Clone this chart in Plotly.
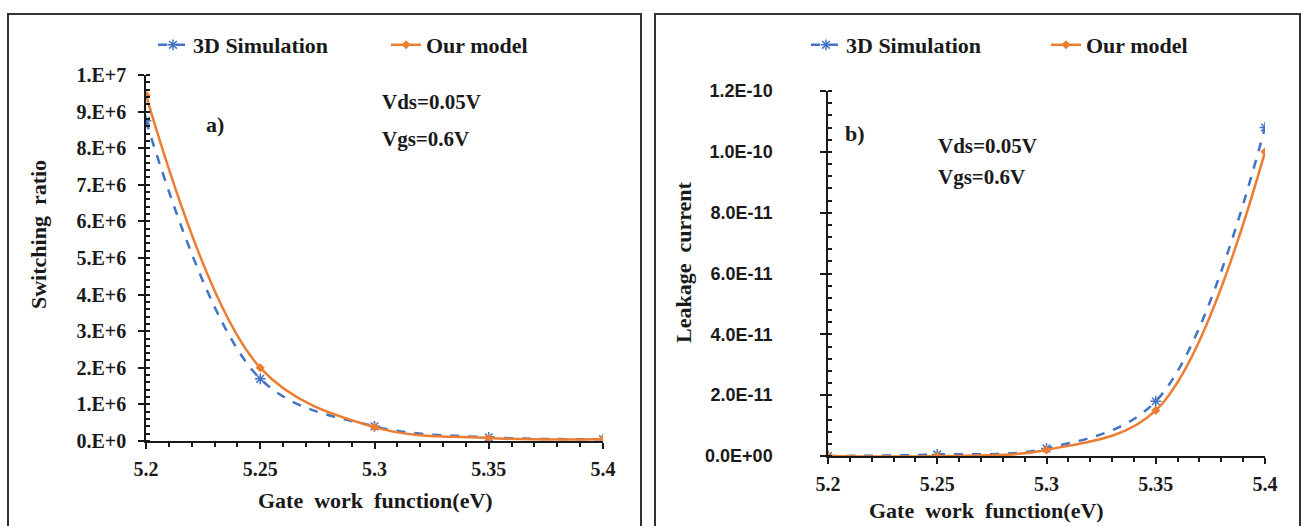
import plotly.graph_objects as go

# ---- data ----
gate_wf = [5.2, 5.25, 5.3, 5.35, 5.4]
sw_sim = [8.75e6, 1.70e6, 0.40e6, 0.10e6, 0.05e6]
sw_model = [9.45e6, 2.00e6, 0.38e6, 0.08e6, 0.05e6]
leak_sim = [0.0, 0.05e-11, 0.25e-11, 1.80e-11, 10.8e-11]
leak_model = [0.0, 0.0, 0.20e-11, 1.50e-11, 10.0e-11]

x_ticks = [5.2, 5.25, 5.3, 5.35, 5.4]
x_ticktext = ["5.2", "5.25", "5.3", "5.35", "5.4"]
sw_tickvals = [i * 1e6 for i in range(11)]
sw_ticktext = ["0.E+0", "1.E+6", "2.E+6", "3.E+6", "4.E+6", "5.E+6",
               "6.E+6", "7.E+6", "8.E+6", "9.E+6", "1.E+7"]
lk_tickvals = [0, 2e-11, 4e-11, 6e-11, 8e-11, 1e-10, 1.2e-10]
lk_ticktext = ["0.0E+00", "2.0E-11", "4.0E-11", "6.0E-11", "8.0E-11", "1.0E-10", "1.2E-10"]

BLUE = "#4472C4"
ORANGE = "#ED7D31"
SERIF = "Liberation Serif"
SANS = "Liberation Sans"
INK = "#1a1a1a"

fig = go.Figure()

def add_pair(x, ysim, ymod, xa, ya, leg):
    fig.add_trace(go.Scatter(
        x=x, y=ysim, name="<b>3D Simulation</b>", xaxis=xa, yaxis=ya, legend=leg,
        mode="lines+markers", line=dict(color=BLUE, width=2.5, dash="dash", shape="spline", smoothing=1.0),
        marker=dict(symbol="asterisk-open", size=9, color=BLUE, line=dict(color=BLUE, width=1.5))))
    fig.add_trace(go.Scatter(
        x=x, y=ymod, name="<b>Our model</b>", xaxis=xa, yaxis=ya, legend=leg,
        mode="lines+markers", line=dict(color=ORANGE, width=2.5, shape="spline", smoothing=1.0),
        marker=dict(symbol="diamond", size=7, color=ORANGE)))

add_pair(gate_wf, sw_sim, sw_model, "x", "y", "legend")
add_pair(gate_wf, leak_sim, leak_model, "x2", "y2", "legend2")

axis_common = dict(showline=True, linecolor=INK, linewidth=1.5, showgrid=False, zeroline=False,
                   ticks="outside", ticklen=6, tickcolor=INK, tickwidth=1.5, automargin=False)

W, H = 1308, 526
def px_x(p): return p / W
def px_y(p): return 1 - p / H

tick_serif = dict(family=SERIF, size=20, color=INK, weight="bold")
legend_font = dict(family=SERIF, size=22, color=INK)

fig.update_layout(
    width=W, height=H, margin=dict(l=0, r=0, t=0, b=0, pad=0, autoexpand=False),
    paper_bgcolor="white", plot_bgcolor="white",
    font=dict(family=SERIF, color=INK),
    xaxis=dict(domain=[px_x(146), px_x(603)], range=[5.2, 5.4], anchor="y",
               tickvals=x_ticks, ticktext=x_ticktext, tickfont=tick_serif, ticklabelstandoff=3,
               minor=dict(dtick=0.01, ticks="outside", ticklen=4, tickcolor=INK),
               **axis_common),
    yaxis=dict(domain=[px_y(441), px_y(75)], range=[0, 1e7], anchor="x",
               tickvals=sw_tickvals, ticktext=sw_ticktext, tickfont=tick_serif, ticklabelstandoff=8,
               minor=dict(dtick=2e5, ticks="inside", ticklen=4, tickcolor=INK),
               **axis_common),
    xaxis2=dict(domain=[px_x(828), px_x(1265)], range=[5.2, 5.4], anchor="y2",
                tickvals=x_ticks, ticktext=x_ticktext, tickfont=tick_serif, ticklabelstandoff=3,
                minor=dict(dtick=0.01, ticks="outside", ticklen=4, tickcolor=INK),
                **axis_common),
    yaxis2=dict(domain=[px_y(456), px_y(91)], range=[0, 1.2e-10], anchor="x2",
                tickvals=lk_tickvals, ticktext=lk_ticktext,
                tickfont=dict(family=SANS, size=18, color=INK, weight="bold"), ticklabelstandoff=44,
                minor=dict(dtick=4e-12, ticks="inside", ticklen=4, tickcolor=INK),
                **axis_common),
    legend=dict(orientation="h", x=px_x(153), y=px_y(45), xanchor="left", yanchor="middle",
                font=legend_font, bgcolor="rgba(0,0,0,0)", entrywidth=188, entrywidthmode="pixels"),
    legend2=dict(orientation="h", x=px_x(806), y=px_y(45), xanchor="left", yanchor="middle",
                 font=legend_font, bgcolor="rgba(0,0,0,0)", entrywidth=195, entrywidthmode="pixels"),
)

# panel borders
fig.add_shape(type="rect", xref="paper", yref="paper", x0=px_x(8), x1=px_x(641), y0=-0.05, y1=px_y(14),
              line=dict(color="#333", width=2), fillcolor="rgba(0,0,0,0)", layer="below")
fig.add_shape(type="rect", xref="paper", yref="paper", x0=px_x(655), x1=px_x(1300), y0=-0.05, y1=px_y(14),
              line=dict(color="#333", width=2), fillcolor="rgba(0,0,0,0)", layer="below")

def ann(text, x, y, size=21, anchor="left", angle=0):
    fig.add_annotation(text=text, xref="paper", yref="paper", x=px_x(x), y=px_y(y),
                       showarrow=False, xanchor=anchor, yanchor="middle", textangle=angle,
                       font=dict(family=SERIF, size=size, color=INK, weight="bold"))

# axis titles
ann("Gate  work  function(eV)", 375, 500, size=22, anchor="center")
ann("Switching  ratio", 38, 235, size=22, anchor="center", angle=-90)
ann("Gate  work  function(eV)", 986, 510, size=22, anchor="center")
ann("Leakage  current", 684, 262, size=22, anchor="center", angle=-90)

# in-plot labels
ann("a)", 204, 124, size=22)
ann("Vds=0.05V", 380, 102)
ann("Vgs=0.6V", 380, 139)
ann("b)", 843, 133, size=22)
ann("Vds=0.05V", 936, 146)
ann("Vgs=0.6V", 936, 177)

fig.write_html("out.html")
